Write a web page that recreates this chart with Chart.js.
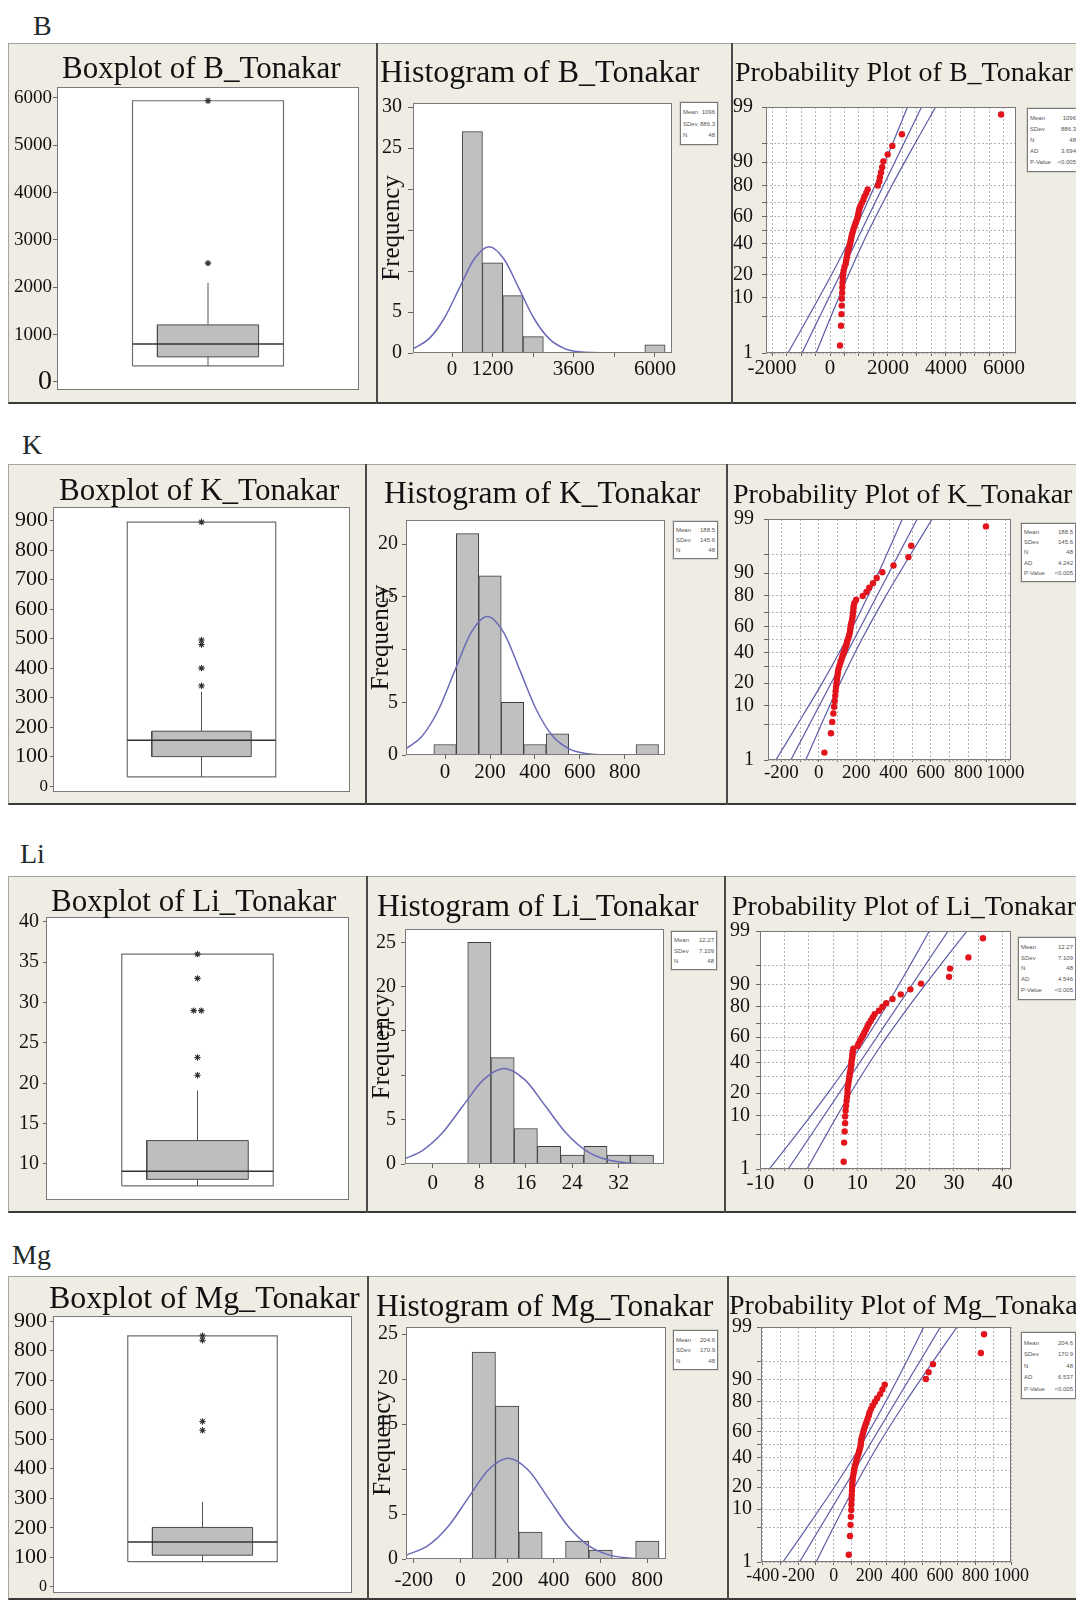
<!DOCTYPE html>
<html>
<head>
<meta charset="utf-8">
<title>Tonakar distributions</title>
<script src="https://cdn.jsdelivr.net/npm/chart.js@4.4.1/dist/chart.umd.min.js"></script>
<style>
  html, body { margin: 0; padding: 0; background: #fff; }
  body { position: relative; width: 1076px; height: 1600px; overflow: hidden;
         font-family: "Liberation Serif", "Times New Roman", serif; color: #111; }
  .row { position: absolute; background: #efece4; box-sizing: border-box;
         border-top: 1px solid #a4a4a4; border-left: 1px solid #a4a4a4; border-bottom: 2px solid #3a3a3a; }
  .sep { position: absolute; width: 2px; background: #4a4a4a; }
  .ttl, .lbl { position: absolute; white-space: nowrap; line-height: 1; }
  .lbl { font-size: 28px; color: #1f2b2b; }
  .stat { position: absolute; box-sizing: border-box; background: #fff; border: 1px solid #7a7a7a;
          outline: 1px solid #d6d3cc; font: 6px "Liberation Sans", Arial, sans-serif; color: #555;
          padding: 1px 2px; white-space: nowrap;
          display: flex; flex-direction: column; justify-content: space-evenly; }
  .stat div { display: flex; justify-content: space-between; }
  canvas { position: absolute; }
</style>
</head>
<body>
<script>
// ---- shared values ----
const statNames = ['Mean', 'SDev', 'N', 'AD', 'P-Value'];
const rankPercents = [1.45, 3.51, 5.58, 7.64, 9.71, 11.78, 13.84, 15.91, 17.98, 20.04, 22.11, 24.17,
  26.24, 28.31, 30.37, 32.44, 34.50, 36.57, 38.64, 40.70, 42.77, 44.83, 46.90, 48.97,
  51.03, 53.10, 55.17, 57.23, 59.30, 61.36, 63.43, 65.50, 67.56, 69.63, 71.69, 73.76,
  75.83, 77.89, 79.96, 82.02, 84.09, 86.16, 88.22, 90.29, 92.36, 94.42, 96.49, 98.55];
const fitPercents = [1, 99];
const bandPercents = [1, 5, 20, 50, 80, 95, 99];
const probTicks = [1, 5, 10, 20, 30, 40, 50, 60, 70, 80, 90, 95, 99];
const probLabels = [1, 10, 20, 40, 60, 80, 90, 99];

// ---- B ----
const bStats = ['1096', '886.3', '48', '3.694', '<0.005'];
const bBoxStats = [340, 530, 800, 1205, 2090, 5940]; // min, Q1, median, Q3, whisker, max
const bOutliers = [2510, 5940];
const bBoxTicks = [0, 1000, 2000, 3000, 4000, 5000, 6000];
const bBinCenters = [600, 1200, 1800, 2400, 6000];
const bCounts = [27, 11, 7, 2, 1];
const bCurveX = [-1153, -677, -233, 210, 653, 1096, 1539, 1982, 2425, 2869, 3312, 3755, 4641, 6503];
const bCurveY = [0.51, 1.75, 4.21, 7.86, 11.44, 12.96, 11.44, 7.86, 4.21, 1.75, 0.57, 0.14, 0, 0];
const bHistXTicks = [0, 1200, 2400, 3600, 4800, 6000];
const bHistXLabels = [0, 1200, 3600, 6000];
const bHistYTicks = [0, 5, 10, 15, 20, 25, 30];
const bHistYLabels = [0, 5, 25, 30];
const bValues = [345, 380, 395, 405, 410, 420, 425, 430, 440, 450, 470, 500, 540, 560, 580, 600,
  620, 650, 680, 700, 720, 740, 760, 790, 815, 850, 880, 920, 950, 970, 990, 1010, 1050, 1100,
  1150, 1190, 1250, 1300, 1650, 1700, 1720, 1760, 1800, 1840, 1990, 2150, 2480, 5900];
const bFit = [-966, 3158];
const bBandLow = [-1452, -749, 57, 845, 1549, 2167, 2672];
const bBandHigh = [-480, 25, 643, 1347, 2135, 2941, 3644];
const bProbXTicks = [-2000, -1500, -1000, -500, 0, 500, 1000, 1500, 2000, 2500, 3000, 3500, 4000, 4500, 5000, 5500, 6000];
const bProbXLabels = [-2000, 0, 2000, 4000, 6000];

// ---- K ----
const kStats = ['188.5', '145.6', '48', '4.242', '<0.005'];
const kBoxStats = [31, 100, 155, 186, 320, 895];
const kOutliers = [340, 400, 480, 495, 895];
const kBoxTicks = [0, 100, 200, 300, 400, 500, 600, 700, 800, 900];
const kBinCenters = [0, 100, 200, 300, 400, 500, 900];
const kCounts = [1, 21, 17, 5, 1, 2, 1];
const kCurveX = [-174, -102.7, -29.9, 42.9, 115.7, 188.5, 261.3, 334.1, 406.9, 479.7, 552.5, 625.3, 771, 979];
const kCurveY = [0.59, 1.78, 4.27, 7.98, 11.61, 13.15, 11.61, 7.98, 4.27, 1.78, 0.58, 0.15, 0, 0];
const kHistXTicks = [0, 200, 400, 600, 800];
const kHistYTicks = [0, 5, 10, 15, 20];
const kHistYLabels = [0, 5, 15, 20];
const kValues = [30, 65, 72, 78, 82, 85, 88, 90, 92, 95, 97, 100, 102, 105, 110, 115, 120, 125,
  130, 135, 140, 145, 150, 152, 158, 162, 166, 168, 170, 172, 176, 179, 181, 183, 185, 186, 190,
  200, 235, 255, 270, 290, 310, 340, 400, 480, 495, 895];
const kFit = [-150, 527];
const kBandLow = [-230, -115, 18, 147, 263, 364, 447];
const kBandHigh = [-70, 13, 114, 230, 359, 492, 607];
const kProbXTicks = [-200, -100, 0, 100, 200, 300, 400, 500, 600, 700, 800, 900, 1000];
const kProbXLabels = [-200, 0, 200, 400, 600, 800, 1000];

// ---- Li ----
const liStats = ['12.27', '7.109', '48', '4.546', '<0.005'];
const liBoxStats = [7.3, 8.1, 9.1, 12.9, 19.1, 36];
const liOutliers = [21, 23.2, 29, 29, 33, 36];
const liBoxTicks = [10, 15, 20, 25, 30, 35, 40];
const liBinCenters = [8, 12, 16, 20, 24, 28, 32, 36];
const liCounts = [25, 12, 4, 2, 1, 2, 1, 1];
const liCurveX = [-4.8, -1.95, 1.61, 5.16, 8.72, 12.27, 15.82, 19.38, 22.93, 26.49, 30.04, 33.6, 37.15, 39.8];
const liCurveY = [0.61, 1.46, 3.50, 6.54, 9.51, 10.78, 9.51, 6.54, 3.50, 1.46, 0.47, 0.12, 0.02, 0];
const liHistXTicks = [0, 8, 16, 24, 32];
const liHistYTicks = [0, 5, 10, 15, 20, 25];
const liHistYLabels = [0, 5, 15, 20, 25];
const liValues = [7.2, 7.3, 7.4, 7.5, 7.5, 7.6, 7.7, 7.8, 7.9, 8.0, 8.0, 8.1, 8.2, 8.3, 8.4, 8.5,
  8.6, 8.7, 8.8, 8.8, 8.9, 9.0, 9.0, 9.1, 9.2, 10.1, 10.3, 10.6, 10.9, 11.2, 11.5, 11.8, 12.1,
  12.4, 12.8, 13.2, 13.6, 14.5, 15.2, 16.0, 17.3, 19.0, 21.0, 23.2, 29.0, 29.2, 33.0, 36.0];
const liFit = [-4.27, 28.81];
const liBandLow = [-8.17, -2.52, 3.93, 10.26, 15.91, 20.86, 24.91];
const liBandHigh = [-0.37, 3.68, 8.63, 14.28, 20.61, 27.06, 32.71];
const liProbXTicks = [-10, -5, 0, 5, 10, 15, 20, 25, 30, 35, 40];
const liProbXLabels = [-10, 0, 10, 20, 30, 40];

// ---- Mg ----
const mgStats = ['204.6', '170.9', '48', '6.537', '<0.005'];
const mgBoxStats = [85, 107, 152, 201, 288, 850];
const mgOutliers = [530, 560, 835, 850];
const mgBoxTicks = [0, 100, 200, 300, 400, 500, 600, 700, 800, 900];
const mgBinCenters = [100, 200, 300, 500, 600, 800];
const mgCounts = [23, 17, 3, 2, 1, 2];
const mgCurveX = [-233, -137.2, -51.8, 33.7, 119.2, 204.6, 290.1, 375.5, 460.9, 546.4, 631.9, 717.3, 802.8, 880];
const mgCurveY = [0.42, 1.52, 3.64, 6.80, 9.89, 11.21, 9.89, 6.80, 3.64, 1.52, 0.49, 0.12, 0.02, 0];
const mgHistXTicks = [-200, 0, 200, 400, 600, 800];
const mgHistYTicks = [0, 5, 10, 15, 20, 25];
const mgHistYLabels = [0, 5, 15, 20, 25];
const mgValues = [85, 92, 95, 97, 99, 100, 101, 102, 103, 104, 105, 107, 109, 112, 115, 118, 122,
  126, 130, 135, 140, 144, 148, 152, 153, 155, 158, 162, 166, 170, 175, 180, 186, 192, 198, 202,
  210, 220, 232, 245, 262, 275, 288, 520, 535, 560, 830, 848];
const mgFit = [-192.9, 602.1];
const mgBandLow = [-286.7, -151.1, 4.3, 156.3, 292.1, 411.1, 508.3];
const mgBandHigh = [-99.1, -1.9, 117.1, 252.9, 404.9, 560.3, 695.9];
const mgProbXTicks = [-400, -300, -200, -100, 0, 100, 200, 300, 400, 500, 600, 700, 800, 900, 1000];
const mgProbXLabels = [-400, -200, 0, 200, 400, 600, 800, 1000];

// ---- page layout (pixels) ----
const rowB = { top: 43, bottom: 404, label: [33, 36],
  box:  { left: 8,   w: 369, plot: [57, 87, 359, 390], yr: [-170, 6230], yt: [4, 1], yFont: [19, 28], title: [62, 78, 31] },
  hist: { left: 377, w: 355, plot: [413, 103, 672, 353], xr: [-1153, 6503], yr: [0, 30.5], xt: [4, 0], yt: [5, 6], title: [380, 82, 32], legend: [680, 102, 38, 43] },
  prob: { left: 732, w: 344, plot: [766, 107, 1016, 353], xr: [-2207, 6414], xt: [3, 0], yt: [4, 9], xFont: 21, title: [735, 82, 28], legend: [1027, 108, 52, 64] } };
const rowK = { top: 464, bottom: 805, label: [22, 455],
  box:  { left: 8,   w: 358, plot: [53, 507, 350, 792], yr: [-20, 946], yt: [3, 2], yFont: [22, 17], title: [59, 500, 31] },
  hist: { left: 366, w: 361, plot: [406, 520, 665, 755], xr: [-174, 979], yr: [0, 22.3], xt: [4, 1], yt: [4, 4], title: [384, 503, 31.5], legend: [673, 521, 45, 38] },
  prob: { left: 727, w: 349, plot: [768, 519, 1011, 760], xr: [-272, 1029], xt: [2, 0], yt: [4, 10], xFont: 19, title: [733, 504, 28], legend: [1021, 523, 55, 59] } };
const rowLi = { top: 876, bottom: 1213, label: [20, 864],
  box:  { left: 8,   w: 359, plot: [46, 917, 349, 1200], yr: [5.54, 40.6], yt: [3, 4], yFont: [20, 20], title: [51, 911, 31] },
  hist: { left: 367, w: 358, plot: [405, 929, 664, 1164], xr: [-4.8, 39.8], yr: [0, 26.5], xt: [4, 3], yt: [4, 5], title: [377, 916, 31.5], legend: [671, 931, 46, 39] },
  prob: { left: 725, w: 351, plot: [760, 931, 1011, 1169], xr: [-10.1, 41.8], xt: [2, 0], yt: [4, 6], xFont: 21, title: [732, 916, 28], legend: [1018, 937, 58, 63] } };
const rowMg = { top: 1276, bottom: 1600, label: [12, 1265],
  box:  { left: 8,   w: 360, plot: [53, 1316, 352, 1593], yr: [-21, 917], yt: [3, 3], yFont: [22, 16], title: [49, 1308, 32] },
  hist: { left: 368, w: 360, plot: [406, 1327, 666, 1559], xr: [-233, 880], yr: [0, 25.8], xt: [4, 5], yt: [4, 4], title: [376, 1316, 31.5], legend: [673, 1330, 45, 40] },
  prob: { left: 728, w: 348, plot: [761, 1327, 1011, 1562], xr: [-410, 1000], xt: [3, 0], yt: [4, 5], xFont: 18, title: [729, 1315, 28], legend: [1021, 1332, 55, 67] } };

const SERIF = '"Liberation Serif", "Times New Roman", serif';
Chart.defaults.font.family = SERIF;
Chart.defaults.color = '#111';

// normal probability axis
function probit(p) {
  const a = [-39.69683028665376, 220.9460984245205, -275.9285104469687, 138.3577518672690, -30.66479806614716, 2.506628277459239];
  const b = [-54.47609879822406, 161.5858368580409, -155.6989798598866, 66.80131188771972, -13.28068155288572];
  const c = [-0.007784894002430293, -0.3223964580411365, -2.400758277161838, -2.549732539343734, 4.374664141464968, 2.938163982698783];
  const d = [0.007784695709041462, 0.3224671290700398, 2.445134137142996, 3.754408661907416];
  const lo = 0.02425;
  if (p < lo) {
    const q = Math.sqrt(-2 * Math.log(p));
    return (((((c[0] * q + c[1]) * q + c[2]) * q + c[3]) * q + c[4]) * q + c[5]) / ((((d[0] * q + d[1]) * q + d[2]) * q + d[3]) * q + 1);
  }
  if (p > 1 - lo) {
    const q = Math.sqrt(-2 * Math.log(1 - p));
    return -(((((c[0] * q + c[1]) * q + c[2]) * q + c[3]) * q + c[4]) * q + c[5]) / ((((d[0] * q + d[1]) * q + d[2]) * q + d[3]) * q + 1);
  }
  const q = p - 0.5, r = q * q;
  return (((((a[0] * r + a[1]) * r + a[2]) * r + a[3]) * r + a[4]) * r + a[5]) * q / (((((b[0] * r + b[1]) * r + b[2]) * r + b[3]) * r + b[4]) * r + 1);
}
function normCdf(z) {
  const t = 1 / (1 + 0.2316419 * Math.abs(z));
  const p = 0.3989423 * Math.exp(-z * z / 2) * t * (0.3193815 + t * (-0.3565638 + t * (1.781478 + t * (-1.821256 + t * 1.330274))));
  return z > 0 ? 1 - p : p;
}
class ProbabilityScale extends Chart.Scale {
  static id = 'probability';
  static defaults = {};
  determineDataLimits() { this.min = this.options.min; this.max = this.options.max; }
  buildTicks() { return []; }
  getLabelForValue(v) { return String(v); }
  configure() { super.configure(); this._z0 = probit(this.min / 100); this._z1 = probit(this.max / 100); }
  getPixelForValue(v) { return this.getPixelForDecimal((probit(v / 100) - this._z0) / (this._z1 - this._z0)); }
  getValueForPixel(px) { return 100 * normCdf(this._z0 + this.getDecimalForPixel(px) * (this._z1 - this._z0)); }
}
Chart.register(ProbabilityScale);

const plotFrame = {
  id: 'plotFrame',
  beforeDraw(chart) {
    const { ctx, chartArea: a } = chart;
    ctx.save(); ctx.fillStyle = '#fff'; ctx.fillRect(a.left, a.top, a.width, a.height); ctx.restore();
  },
  afterDatasetsDraw(chart) {
    const { ctx, chartArea: a } = chart;
    ctx.save(); ctx.strokeStyle = '#7a7a7a'; ctx.lineWidth = 1;
    ctx.strokeRect(Math.round(a.left) + 0.5, Math.round(a.top) + 0.5, Math.round(a.width) - 1, Math.round(a.height) - 1);
    ctx.restore();
  }
};

function el(cls, css, text) {
  const e = document.createElement('div');
  e.className = cls;
  Object.assign(e.style, css);
  if (text != null) e.textContent = text;
  document.body.appendChild(e);
  return e;
}
function canvasFor(row, p) {
  const c = document.createElement('canvas');
  c.width = p.w; c.height = row.bottom - row.top;
  c.style.left = p.left + 'px'; c.style.top = row.top + 'px';
  document.body.appendChild(c);
  return c;
}
function axis(o) {
  return {
    type: o.type || 'linear', position: o.pos, min: o.min, max: o.max, offset: false,
    afterBuildTicks: s => { s.ticks = o.ticks.map(v => ({ value: v })); },
    afterFit: s => {
      if (o.pos === 'bottom') s.height = o.size; else s.width = o.size;
      s.paddingTop = s.paddingBottom = s.paddingLeft = s.paddingRight = 0;
    },
    ticks: { autoSkip: false, maxRotation: 0, minRotation: 0, padding: o.pad, color: '#111', font: o.font,
      callback: v => (o.labels.includes(v) ? String(v) : '') },
    grid: { display: true, drawOnChartArea: !!o.grid, drawTicks: true, color: '#b4b4b4', lineWidth: 1,
      tickLength: o.tick, tickColor: '#666', tickWidth: 1, offset: false },
    border: { display: false, dash: [2, 2] },
    title: o.title ? { display: true, text: o.title, color: '#111', font: { family: SERIF, size: 25 }, padding: { top: 0, bottom: 0 } } : { display: false }
  };
}
function baseOptions(row, p, scales, xShown) {
  const [L, T, R, B] = p.plot;
  return {
    responsive: false, animation: false, events: [],
    layout: { autoPadding: false, padding: { left: 0, top: T - row.top, right: p.left + p.w - R, bottom: xShown ? 0 : row.bottom - B } },
    plugins: { legend: { display: false }, tooltip: { enabled: false }, title: { display: false } },
    scales
  };
}
const seg = (pts, color, width, tension) => ({ data: pts, showLine: true, borderColor: color, borderWidth: width,
  pointRadius: 0, tension: tension || 0, fill: false });

function drawBox(row, stats, outliers, yTicks) {
  const p = row.box;
  const [mn, q1, md, q3, wt, mx] = stats;
  const bw = 0.335, ow = 0.5;
  const rect = (w, y0, y1) => [{ x: -w, y: y0 }, { x: w, y: y0 }, { x: w, y: y1 }, { x: -w, y: y1 }, { x: -w, y: y0 }];
  const outPts = outliers.map((v, i) => {
    const n = outliers.filter(o => o === v).length;
    const k = outliers.slice(0, i).filter(o => o === v).length;
    return { x: (k - (n - 1) / 2) * 0.05, y: v };
  });
  const [fs, zs] = p.yFont;
  new Chart(canvasFor(row, p), {
    type: 'scatter',
    data: { datasets: [
      { data: outPts, showLine: false, pointStyle: 'star', pointRadius: 3.2, borderColor: '#333', borderWidth: 1.1 },
      seg([{ x: -ow, y: md }, { x: ow, y: md }], '#333', 1.5),
      seg([{ x: 0, y: q3 }, { x: 0, y: wt }], '#555', 1),
      seg([{ x: 0, y: mn }, { x: 0, y: q1 }], '#555', 1),
      seg(rect(bw, q1, q3), '#4a4a4a', 1),
      seg(rect(ow, mn, mx), '#6e6e6e', 1.2),
      { data: [{ x: -bw, y: q3 }, { x: bw, y: q3 }], showLine: true, borderWidth: 0, pointRadius: 0,
        backgroundColor: '#bebebe', fill: { target: { value: q1 } } }
    ] },
    options: baseOptions(row, p, {
      x: { type: 'linear', display: false, min: -1, max: 1 },
      y: axis({ pos: 'left', min: p.yr[0], max: p.yr[1], ticks: yTicks, labels: yTicks, size: p.plot[0] - p.left,
        tick: p.yt[0], pad: p.yt[1], font: ctx => ({ family: SERIF, size: ctx.tick && ctx.tick.value === 0 ? zs : fs }) })
    }, false),
    plugins: [plotFrame]
  });
}

function drawHist(row, centers, counts, curveX, curveY, xTicks, xLabels, yTicks, yLabels) {
  const p = row.hist;
  const [L, T, R, B] = p.plot;
  new Chart(canvasFor(row, p), {
    type: 'bar',
    data: { datasets: [
      { type: 'line', data: curveX.map((x, i) => ({ x, y: curveY[i] })), borderColor: '#6a6ab8', borderWidth: 1.5,
        pointRadius: 0, cubicInterpolationMode: 'monotone', fill: false },
      { type: 'bar', data: centers.map((x, i) => ({ x, y: counts[i] })), backgroundColor: '#c0c0c0',
        borderColor: '#3c3c3c', borderWidth: 1, barPercentage: 1, categoryPercentage: 1 }
    ] },
    options: baseOptions(row, p, {
      x: axis({ pos: 'bottom', min: p.xr[0], max: p.xr[1], ticks: xTicks, labels: xLabels, size: row.bottom - B,
        tick: p.xt[0], pad: p.xt[1], font: { family: SERIF, size: 21 } }),
      y: axis({ pos: 'left', min: p.yr[0], max: p.yr[1], ticks: yTicks, labels: yLabels, size: L - p.left,
        tick: p.yt[0], pad: p.yt[1], font: { family: SERIF, size: 20 }, title: 'Frequency' })
    }, true),
    plugins: [plotFrame]
  });
}

function drawProb(row, values, fit, bandLow, bandHigh, xTicks, xLabels) {
  const p = row.prob;
  const [L, T, R, B] = p.plot;
  const lineColor = '#5c5ca8';
  new Chart(canvasFor(row, p), {
    type: 'scatter',
    data: { datasets: [
      { data: values.map((v, i) => ({ x: v, y: rankPercents[i] })), pointRadius: 3.2,
        pointBackgroundColor: '#e2141c', pointBorderWidth: 0 },
      seg(fitPercents.map((q, i) => ({ x: fit[i], y: q })), lineColor, 1.2),
      seg(bandPercents.map((q, i) => ({ x: bandLow[i], y: q })), lineColor, 1.2, 0.3),
      seg(bandPercents.map((q, i) => ({ x: bandHigh[i], y: q })), lineColor, 1.2, 0.3)
    ] },
    options: baseOptions(row, p, {
      x: axis({ pos: 'bottom', min: p.xr[0], max: p.xr[1], ticks: xTicks, labels: xLabels, size: row.bottom - B,
        tick: p.xt[0], pad: p.xt[1], font: { family: SERIF, size: p.xFont }, grid: true }),
      y: axis({ type: 'probability', pos: 'left', min: 1, max: 99, ticks: probTicks, labels: probLabels,
        size: L - p.left, tick: p.yt[0], pad: p.yt[1], font: { family: SERIF, size: 20 }, grid: true })
    }, true),
    plugins: [plotFrame]
  });
}

function statBox(rect, n, vals) {
  const [x, y, w, h] = rect;
  const box = el('stat', { left: x + 'px', top: y + 'px', width: w + 'px', height: h + 'px' });
  for (let i = 0; i < n; i++) {
    const line = document.createElement('div');
    const a = document.createElement('span'); a.textContent = statNames[i];
    const b = document.createElement('span'); b.textContent = vals[i];
    line.appendChild(a); line.appendChild(b); box.appendChild(line);
  }
}
function title(t, text) {
  const [x, base, size] = t;
  el('ttl', { left: x + 'px', top: (base - 0.84 * size) + 'px', fontSize: size + 'px' }, text);
}

function frameRow(row, name) {
  el('row', { left: '8px', top: row.top + 'px', width: '1068px', height: (row.bottom - row.top) + 'px' });
  el('sep', { left: (row.hist.left - 1) + 'px', top: row.top + 'px', height: (row.bottom - row.top) + 'px' });
  el('sep', { left: (row.prob.left - 1) + 'px', top: row.top + 'px', height: (row.bottom - row.top) + 'px' });
  el('lbl', { left: row.label[0] + 'px', top: (row.label[1] - 0.84 * 28) + 'px' }, name);
}
function textRow(row, name, stats) {
  title(row.box.title, 'Boxplot of ' + name + '_Tonakar');
  title(row.hist.title, 'Histogram of ' + name + '_Tonakar');
  title(row.prob.title, 'Probability Plot of ' + name + '_Tonakar');
  statBox(row.hist.legend, 3, stats);
  statBox(row.prob.legend, 5, stats);
}

frameRow(rowB, 'B'); frameRow(rowK, 'K'); frameRow(rowLi, 'Li'); frameRow(rowMg, 'Mg');

drawBox(rowB, bBoxStats, bOutliers, bBoxTicks);
drawHist(rowB, bBinCenters, bCounts, bCurveX, bCurveY, bHistXTicks, bHistXLabels, bHistYTicks, bHistYLabels);
drawProb(rowB, bValues, bFit, bBandLow, bBandHigh, bProbXTicks, bProbXLabels);

drawBox(rowK, kBoxStats, kOutliers, kBoxTicks);
drawHist(rowK, kBinCenters, kCounts, kCurveX, kCurveY, kHistXTicks, kHistXTicks, kHistYTicks, kHistYLabels);
drawProb(rowK, kValues, kFit, kBandLow, kBandHigh, kProbXTicks, kProbXLabels);

drawBox(rowLi, liBoxStats, liOutliers, liBoxTicks);
drawHist(rowLi, liBinCenters, liCounts, liCurveX, liCurveY, liHistXTicks, liHistXTicks, liHistYTicks, liHistYLabels);
drawProb(rowLi, liValues, liFit, liBandLow, liBandHigh, liProbXTicks, liProbXLabels);

drawBox(rowMg, mgBoxStats, mgOutliers, mgBoxTicks);
drawHist(rowMg, mgBinCenters, mgCounts, mgCurveX, mgCurveY, mgHistXTicks, mgHistXTicks, mgHistYTicks, mgHistYLabels);
drawProb(rowMg, mgValues, mgFit, mgBandLow, mgBandHigh, mgProbXTicks, mgProbXLabels);

textRow(rowB, 'B', bStats); textRow(rowK, 'K', kStats); textRow(rowLi, 'Li', liStats); textRow(rowMg, 'Mg', mgStats);
</script>
</body>
</html>
